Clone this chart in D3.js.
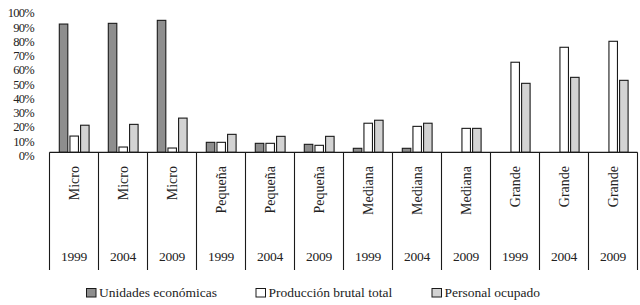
<!DOCTYPE html>
<html>
<head>
<meta charset="utf-8">
<script src="https://cdn.jsdelivr.net/npm/d3@7"></script>
<style>
  body { margin: 0; background: #fff; }
</style>
</head>
<body>
<svg id="chart"></svg>
<script>
let sizes = ['Micro', 'Micro', 'Micro', 'Pequeña', 'Pequeña', 'Pequeña', 'Mediana', 'Mediana', 'Mediana', 'Grande', 'Grande', 'Grande']
let years = ['1999', '2004', '2009', '1999', '2004', '2009', '1999', '2004', '2009', '1999', '2004', '2009']
let seriesNames = ['Unidades económicas', 'Producción brutal total', 'Personal ocupado']
let unidades = [90, 90.5, 92.6, 7, 6.3, 5.6, 2.8, 2.8, 0, 0, 0, 0]
let produccion = [11.4, 3.7, 3, 7, 6.3, 4.9, 20.4, 18.2, 16.8, 63.2, 73.7, 77.9]
let personal = [19, 19.6, 24, 12.6, 11.2, 11.2, 22.5, 20.4, 16.8, 48.4, 52.6, 50.5]
let yTicks = [0, 10, 20, 30, 40, 50, 60, 70, 80, 90, 100]
let colors = ['#8e8e8e', '#ffffff', '#d3d3d3']

let width = 640,
    height = 305,
    plotLeft = 49.5,
    plotRight = 637.5,
    axisY = 152.3,
    plotTop = 9.8,
    frameBottom = 270

let $svg = d3.select('#chart')
    .attr('width', width)
    .attr('height', height)
    .attr('font-family', 'Liberation Serif, serif')
    .style('font-family', "'Liberation Serif', serif")

let x = d3.scaleBand()
    .domain(d3.range(sizes.length))
    .range([plotLeft, plotRight])
    .padding(0)

let y = d3.scaleLinear()
    .domain([0, 100])
    .range([axisY, plotTop])

let x1 = d3.scaleBand()
    .domain([0, 1, 2])
    .range([9.8, 39.6])
    .paddingInner(0.2)

let series = [unidades, produccion, personal]

// y tick labels (no axis line in the original)
$svg.append('g')
    .selectAll('text')
    .data(yTicks)
    .join('text')
    .attr('x', 34)
    .attr('y', d => y(d) + 7.5)
    .attr('text-anchor', 'end')
    .attr('font-size', 12.5)
    .attr('letter-spacing', -0.7)
    .attr('fill', '#222')
    .text(d => d + '%')

// bars
let groups = $svg.append('g')
    .selectAll('g')
    .data(sizes)
    .join('g')
    .attr('transform', (d, i) => 'translate(' + x(i) + ',0)')

groups.selectAll('rect')
    .data((d, i) => series.map((s, k) => ({ k: k, v: s[i] })).filter(e => e.v > 0))
    .join('rect')
    .attr('x', d => x1(d.k))
    .attr('y', d => y(d.v))
    .attr('width', x1.bandwidth())
    .attr('height', d => axisY - y(d.v))
    .attr('fill', d => colors[d.k])
    .attr('stroke', '#1a1a1a')
    .attr('stroke-width', 1.1)

// category frame below the axis
$svg.append('line')
    .attr('x1', plotLeft).attr('x2', plotRight)
    .attr('y1', axisY).attr('y2', axisY)
    .attr('stroke', '#1a1a1a')
    .attr('stroke-width', 1.3)

$svg.append('g')
    .selectAll('line')
    .data(d3.range(sizes.length + 1))
    .join('line')
    .attr('x1', i => i < sizes.length ? x(i) : plotRight)
    .attr('x2', i => i < sizes.length ? x(i) : plotRight)
    .attr('y1', axisY)
    .attr('y2', frameBottom)
    .attr('stroke', '#1a1a1a')
    .attr('stroke-width', 1.1)

// rotated size labels
$svg.append('g')
    .selectAll('text')
    .data(sizes)
    .join('text')
    .attr('transform', (d, i) => 'translate(' + (x(i) + x.bandwidth() / 2 + 5) + ',166) rotate(-90)')
    .attr('text-anchor', 'end')
    .attr('font-size', 14)
    .attr('fill', '#222')
    .text(d => d)

// year labels
$svg.append('g')
    .selectAll('text')
    .data(years)
    .join('text')
    .attr('x', (d, i) => x(i) + x.bandwidth() / 2)
    .attr('y', 260.5)
    .attr('text-anchor', 'middle')
    .attr('font-size', 13.5)
    .attr('letter-spacing', -0.3)
    .attr('fill', '#222')
    .text(d => d)

// legend
let legendX = [86, 255.5, 431.5]
let legend = $svg.append('g')
    .selectAll('g')
    .data(seriesNames)
    .join('g')
    .attr('transform', (d, i) => 'translate(' + legendX[i] + ',288)')

legend.append('rect')
    .attr('x', 0.5).attr('y', 0.5)
    .attr('width', 9.5).attr('height', 8.5)
    .attr('fill', (d, i) => colors[i])
    .attr('stroke', '#1a1a1a')
    .attr('stroke-width', 1)

legend.append('text')
    .attr('x', 13)
    .attr('y', 8.5)
    .attr('font-size', 13.5)
    .attr('fill', '#222')
    .text(d => d)
</script>
</body>
</html>
